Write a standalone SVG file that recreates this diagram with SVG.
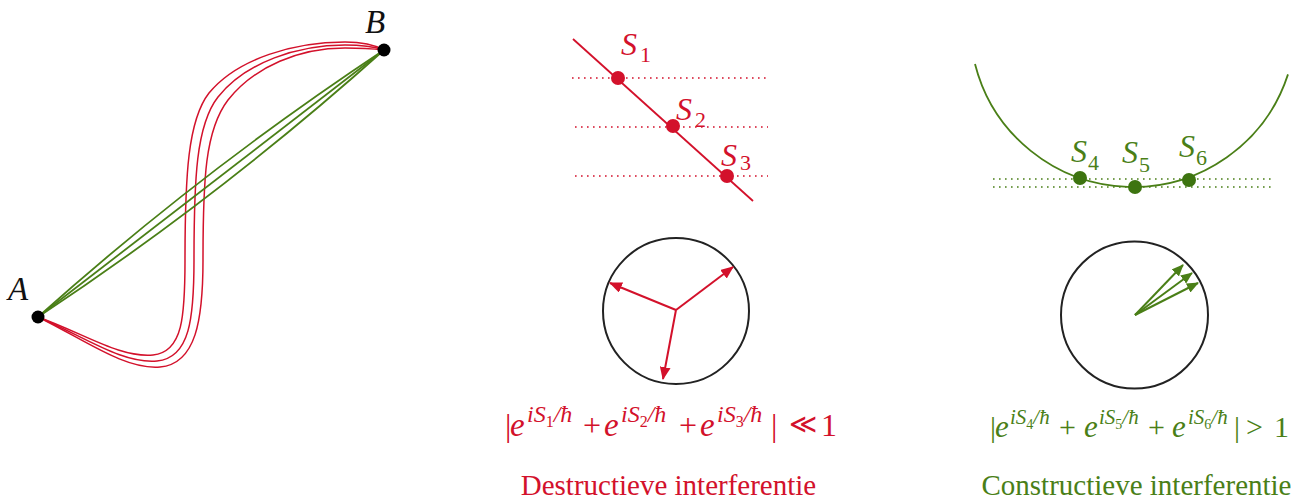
<svg xmlns="http://www.w3.org/2000/svg" width="1298" height="499" viewBox="0 0 1298 499">
<style>
.serif{font-family:"Liberation Serif","DejaVu Serif",serif;}
.it{font-style:italic;}
.red{fill:#d3112b;}
.grn{fill:#4a7f17;}
.rpath{fill:none;stroke:#d3112b;stroke-width:1.5;}
.gpath{fill:none;stroke:#4a7f17;stroke-width:1.8;}
.rdot{fill:none;stroke:#d3112b;stroke-width:1.6;stroke-dasharray:1.6 4.4;}
.gdot{fill:none;stroke:#4a7f17;stroke-width:1.6;stroke-dasharray:1.6 4.4;}
.circ{fill:none;stroke:#222;stroke-width:2;}
.rarrow{stroke:#d3112b;stroke-width:2;fill:none;marker-end:url(#ahr);}
.garrow{stroke:#4a7f17;stroke-width:2;fill:none;marker-end:url(#ahg);}
.rel{font-family:"DejaVu Serif",serif;}
</style>
<defs>
<marker id="ahr" viewBox="0 0 12 10" refX="11" refY="5" markerWidth="13" markerHeight="11" markerUnits="userSpaceOnUse" orient="auto"><path d="M0,0 L12,5 L0,10 z" fill="#d3112b"/></marker>
<marker id="ahg" viewBox="0 0 12 10" refX="11" refY="5" markerWidth="12" markerHeight="10" markerUnits="userSpaceOnUse" orient="auto"><path d="M0,0 L12,5 L0,10 z" fill="#4a7f17"/></marker>
</defs>
<rect width="1298" height="499" fill="#fff"/>

<g id="connectors">
<path class="rpath" d="M38,317 C 85,340 125,370 160,367 C 196,364 203,320 203,260 C 203,180 205,130 228,100 C 255,66 300,48 345,48 C 365,48 375,49 384,50"/>
<path class="rpath" d="M38,317 C 85,337 122,364 157,361 C 190,358 194,318 194,260 C 194,180 196,125 218,97 C 246,62 298,45 345,45 C 365,45 375,47 384,50"/>
<path class="rpath" d="M38,317 C 85,334 120,358 153,355 C 183,352 185,316 185,260 C 185,175 188,120 209,93 C 238,58 295,42 345,42 C 365,42 375,45 384,50"/>
<path class="gpath" d="M38,317 Q 201,171 384,50"/>
<path class="gpath" d="M38,317 Q 211,183.5 384,50"/>
<path class="gpath" d="M38,317 Q 221,196 384,50"/>
</g>

<g id="node-A">
<circle cx="38" cy="317" r="6.5" fill="#000"/>
<text class="serif it" x="8" y="300" font-size="33" fill="#111">A</text>
</g>
<g id="node-B">
<circle cx="384" cy="50" r="6.5" fill="#000"/>
<text class="serif it" x="365" y="33" font-size="33" fill="#111">B</text>
</g>

<g id="stationary-red">
<line x1="572" y1="78" x2="766" y2="78" class="rdot"/>
<line x1="575" y1="127" x2="768" y2="127" class="rdot"/>
<line x1="575" y1="176" x2="768" y2="176" class="rdot"/>
<line x1="573" y1="39" x2="753" y2="201" stroke="#d3112b" stroke-width="1.8"/>
<circle cx="618" cy="78" r="7" fill="#d3112b"/>
<circle cx="673" cy="126" r="7" fill="#d3112b"/>
<circle cx="727" cy="176" r="7" fill="#d3112b"/>
<text class="serif red" font-size="32"><tspan class="it" x="621" y="55">S</tspan><tspan x="640" y="62" font-size="22">1</tspan></text>
<text class="serif red" font-size="32"><tspan class="it" x="676" y="120">S</tspan><tspan x="695" y="127" font-size="22">2</tspan></text>
<text class="serif red" font-size="32"><tspan class="it" x="721" y="166">S</tspan><tspan x="740" y="170" font-size="22">3</tspan></text>
</g>

<g id="phasor-red">
<circle cx="676" cy="311" r="73" class="circ"/>
<line x1="676" y1="310" x2="733" y2="267" class="rarrow"/>
<line x1="676" y1="310" x2="610" y2="283" class="rarrow"/>
<line x1="676" y1="310" x2="663" y2="379" class="rarrow"/>
</g>

<g id="formula-red" class="serif red">
<text font-size="32" x="505" y="436">|</text>
<text font-size="33" class="it" x="510" y="436">e</text>
<text font-size="24" x="527" y="422"><tspan class="it">iS</tspan><tspan font-size="16" dy="5">1</tspan><tspan class="it" dy="-5">/ħ</tspan></text>
<text font-size="32" x="583" y="436">+</text>
<text font-size="33" class="it" x="604" y="436">e</text>
<text font-size="24" x="621" y="422"><tspan class="it">iS</tspan><tspan font-size="16" dy="5">2</tspan><tspan class="it" dy="-5">/ħ</tspan></text>
<text font-size="32" x="679" y="436">+</text>
<text font-size="33" class="it" x="700" y="436">e</text>
<text font-size="24" x="717" y="422"><tspan class="it">iS</tspan><tspan font-size="16" dy="5">3</tspan><tspan class="it" dy="-5">/ħ</tspan></text>
<text font-size="32" x="771" y="436">|</text>
<text font-size="27" class="rel" x="789" y="433">≪</text>
<text font-size="32" x="821" y="436">1</text>
</g>
<text id="caption-red" class="serif red" x="668.5" y="495" font-size="29" text-anchor="middle">Destructieve interferentie</text>

<g id="stationary-green">
<line x1="993" y1="179" x2="1273" y2="179" class="gdot"/>
<line x1="993" y1="187" x2="1273" y2="187" class="gdot"/>
<path d="M975,64 A163,163 0 0 0 1288,74.4" class="gpath"/>
<circle cx="1080" cy="178" r="7" fill="#3d7410"/>
<circle cx="1135" cy="187" r="7" fill="#3d7410"/>
<circle cx="1189" cy="180" r="7" fill="#3d7410"/>
<text class="serif grn" font-size="32"><tspan class="it" x="1071" y="162">S</tspan><tspan x="1088" y="170" font-size="22">4</tspan></text>
<text class="serif grn" font-size="32"><tspan class="it" x="1122" y="163">S</tspan><tspan x="1139" y="172" font-size="22">5</tspan></text>
<text class="serif grn" font-size="32"><tspan class="it" x="1179" y="157">S</tspan><tspan x="1196" y="165" font-size="22">6</tspan></text>
</g>

<g id="phasor-green">
<circle cx="1134.5" cy="315" r="73.5" class="circ"/>
<line x1="1135" y1="315" x2="1183" y2="265" class="garrow"/>
<line x1="1135" y1="315" x2="1192" y2="273" class="garrow"/>
<line x1="1135" y1="315" x2="1198" y2="283" class="garrow"/>
</g>

<g id="formula-green" class="serif grn">
<text font-size="30" x="990" y="437">|</text>
<text font-size="31" class="it" x="995" y="437">e</text>
<text font-size="21" x="1010" y="424"><tspan class="it">iS</tspan><tspan font-size="14" dy="5">4</tspan><tspan class="it" dy="-5">/ħ</tspan></text>
<text font-size="30" x="1059" y="437">+</text>
<text font-size="31" class="it" x="1084" y="437">e</text>
<text font-size="21" x="1099" y="424"><tspan class="it">iS</tspan><tspan font-size="14" dy="5">5</tspan><tspan class="it" dy="-5">/ħ</tspan></text>
<text font-size="30" x="1148" y="437">+</text>
<text font-size="31" class="it" x="1172" y="437">e</text>
<text font-size="21" x="1188" y="424"><tspan class="it">iS</tspan><tspan font-size="14" dy="5">6</tspan><tspan class="it" dy="-5">/ħ</tspan></text>
<text font-size="30" x="1234" y="437">|</text>
<text font-size="30" x="1246" y="437">&gt;</text>
<text font-size="30" x="1274" y="437">1</text>
</g>
<text id="caption-green" class="serif grn" x="1136.5" y="495" font-size="29" text-anchor="middle">Constructieve interferentie</text>
</svg>
